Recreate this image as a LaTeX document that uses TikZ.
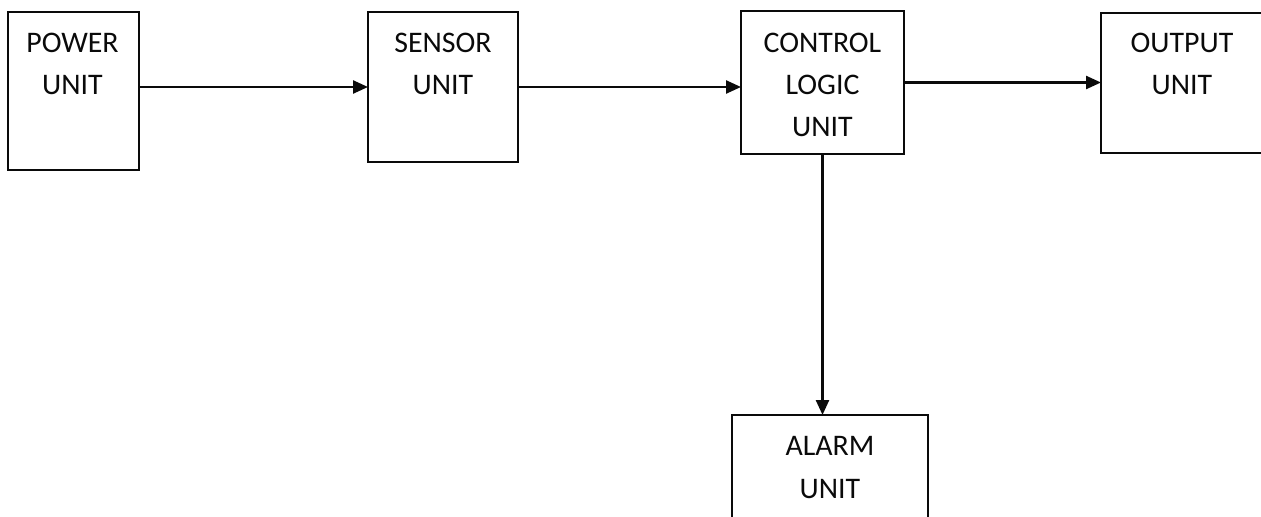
\documentclass[tikz,border=0pt]{standalone}
\usepackage{fontspec}
\setmainfont{Carlito}
\usetikzlibrary{arrows.meta,positioning,calc}
\definecolor{ink}{HTML}{0A0A0A}

\begin{document}
\begin{tikzpicture}[font=\fontsize{17}{24}\selectfont,
  unit/.style={draw=ink, line width=1.5pt, inner sep=0pt, outer sep=0pt},
  caption/.style={text=ink, align=center, inner sep=0pt},
  flow/.style={draw=ink, line width=1.4pt, -{Triangle[length=0.3cm, width=0.26cm]}}]
\clip (0,0) rectangle (25.22,-10.34);
% ---------------- boxes of the top row
\node[unit, minimum width=2.62cm, minimum height=3.16cm] (power) at (1.47,-1.82) {};
\node[unit, minimum width=3.00cm, minimum height=3.00cm] (sensor) at (8.86,-1.74) {};
\node[unit, minimum width=3.26cm, minimum height=2.86cm] (ctrl) at (16.45,-1.65) {};
\node[unit, minimum width=3.30cm, minimum height=2.80cm] (output) at (23.67,-1.66) {};
% ---------------- alarm box below
\node[unit, minimum width=3.92cm, minimum height=2.90cm] (alarm) at (16.60,-9.75) {};
% ---------------- texts
\node[caption] (powert) at (1.45,-1.28) {POWER\\UNIT};
\node[caption] (sensort) at (8.86,-1.28) {SENSOR\\UNIT};
\node[caption] (ctrlt) at (16.45,-1.70) {CONTROL\\LOGIC\\UNIT};
\node[caption] (outputt) at (23.64,-1.28) {OUTPUT\\UNIT};
\node[caption] (alarmt) at (16.60,-9.35) {ALARM\\UNIT};
% ---------------- connectors
\draw[flow] (power.east |- sensor.west) -- (sensor.west);
\draw[flow] (sensor.east) -- (sensor.east -| ctrl.west);
\draw[flow] (ctrl.east) -- (ctrl.east -| output.west);
\draw[flow] (ctrl.south) -- (ctrl.south |- alarm.north);
\end{tikzpicture}
\end{document}
